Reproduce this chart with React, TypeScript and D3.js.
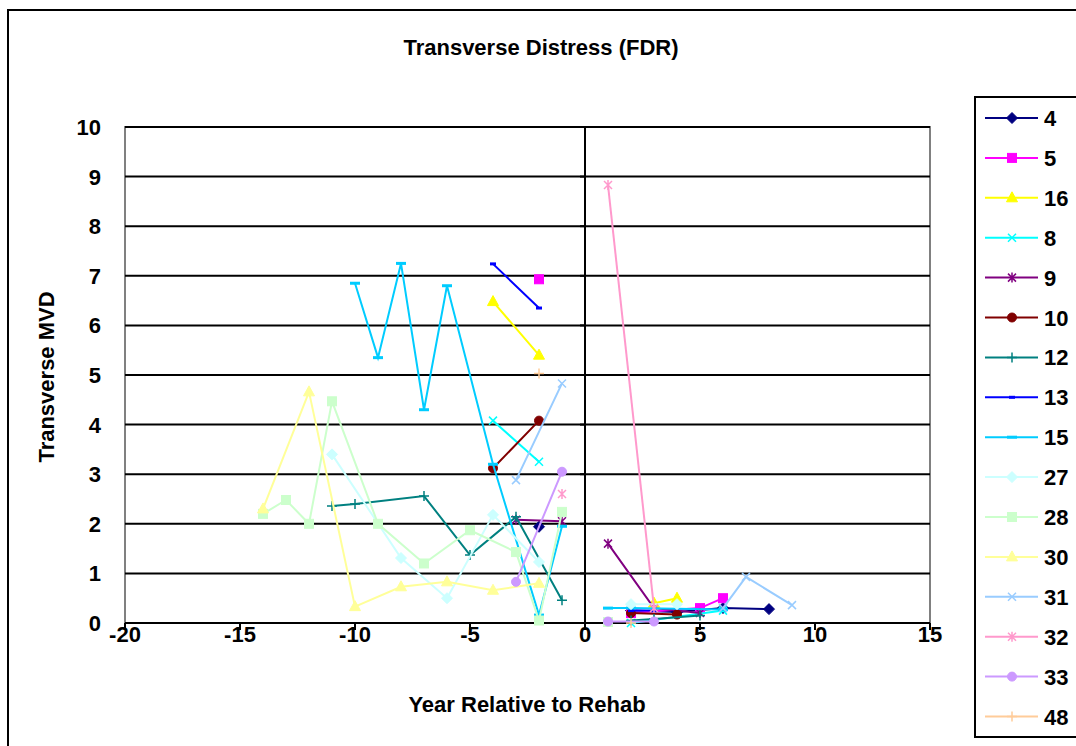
import React from "react";
import * as d3 from "d3";

type Pt = [number, number] | null;

const title = "Transverse Distress (FDR)";
const xTitle = "Year Relative to Rehab";
const yTitle = "Transverse MVD";
const xTicks = [-20, -15, -10, -5, 0, 5, 10, 15];
const yTicks = [0, 1, 2, 3, 4, 5, 6, 7, 8, 9, 10];

const seriesNames = ["4", "5", "16", "8", "9", "10", "12", "13", "15", "27", "28", "30", "31", "32", "33", "48"];
const seriesColors = ["#000080", "#FF00FF", "#FFFF00", "#00FFFF", "#800080", "#800000", "#008080", "#0000FF", "#00CCFF", "#CCFFFF", "#CCFFCC", "#FFFF99", "#99CCFF", "#FF99CC", "#CC99FF", "#FFCC99"];
const seriesMarkers = ["diamond", "square", "triangle", "x", "star", "circle", "plus", "dash", "longdash", "diamond", "square", "triangle", "x", "star", "circle", "plus"];

const s4: Pt[] = [[-2, 1.94], null, [2, 0.25], [4, 0.22], [6, 0.3], [8, 0.28]];
const s5: Pt[] = [[-2, 6.93], null, [2, 0.2], [5, 0.3], [6, 0.5]];
const s16: Pt[] = [[-4, 6.48], [-2, 5.4], null, [3, 0.4], [4, 0.5]];
const s8: Pt[] = [[-4, 4.08], [-2, 3.25], null, [2, 0.0], [6, 0.25]];
const s9: Pt[] = [[-3, 2.08], [-1, 2.05], null, [1, 1.6], [3, 0.3], [5, 0.2]];
const s10: Pt[] = [[-4, 3.12], [-2, 4.08], null, [2, 0.2], [4, 0.17]];
const s12: Pt[] = [[-11, 2.36], [-10, 2.4], [-7, 2.56], [-5, 1.37], [-3, 2.14], [-1, 0.46], null, [2, 0.05], [3, 0.08], [5, 0.15]];
const s13: Pt[] = [[-4, 7.24], [-2, 6.35], null, [2, 0.25], [3, 0.25]];
const s15: Pt[] = [[-10, 6.85], [-9, 5.35], [-8, 7.25], [-7, 4.3], [-6, 6.8], [-4, 3.2], [-2, 0.16], [-1, 1.95], null, [1, 0.3], [2, 0.3], [6, 0.27]];
const s27: Pt[] = [[-11, 3.4], [-8, 1.31], [-6, 0.5], [-4, 2.18], [-2, 1.23], null, [2, 0.38], [4, 0.38]];
const s28: Pt[] = [[-14, 2.2], [-13, 2.48], [-12, 2.0], [-11, 4.47], [-9, 2.0], [-7, 1.2], [-5, 1.87], [-3, 1.43], [-2, 0.05], [-1, 2.24], null, [1, 0.02]];
const s30: Pt[] = [[-14, 2.3], [-12, 4.66], [-10, 0.33], [-8, 0.73], [-6, 0.83], [-4, 0.66], [-2, 0.8]];
const s31: Pt[] = [[-3, 2.88], [-1, 4.83], null, [6, 0.3], [7, 0.93], [9, 0.36]];
const s32: Pt[] = [[-1, 2.6], null, [1, 8.83], [3, 0.3]];
const s33: Pt[] = [[-3, 0.83], [-1, 3.05], null, [1, 0.03], [3, 0.03]];
const s48: Pt[] = [[-2, 5.03], null, [2, 0.0]];

const seriesData = [s4, s5, s16, s8, s9, s10, s12, s13, s15, s27, s28, s30, s31, s32, s33, s48];

const W = 1076;
const H = 746;
const plot = { left: 125, right: 930, top: 127, bottom: 623 };
const FONT = "'Liberation Sans', Arial, sans-serif";
const FS = 22;

function Marker({ kind, x, y, color }: { kind: string; x: number; y: number; color: string }) {
  switch (kind) {
    case "diamond":
      return <path d={`M${x},${y - 5.5}L${x + 5.5},${y}L${x},${y + 5.5}L${x - 5.5},${y}Z`} fill={color} stroke={color} strokeWidth={1} />;
    case "square":
      return <rect x={x - 4.5} y={y - 4.5} width={9} height={9} fill={color} stroke={color} strokeWidth={1} />;
    case "triangle":
      return <path d={`M${x},${y - 6}L${x + 5.5},${y + 4}L${x - 5.5},${y + 4}Z`} fill={color} stroke={color} strokeWidth={1} />;
    case "circle":
      return <circle cx={x} cy={y} r={4.5} fill={color} stroke={color} strokeWidth={1} />;
    case "x":
      return <path d={`M${x - 4},${y - 4}L${x + 4},${y + 4}M${x - 4},${y + 4}L${x + 4},${y - 4}`} stroke={color} strokeWidth={1.5} fill="none" />;
    case "star":
      return <path d={`M${x - 4},${y - 4}L${x + 4},${y + 4}M${x - 4},${y + 4}L${x + 4},${y - 4}M${x},${y - 5}L${x},${y + 5}`} stroke={color} strokeWidth={1.5} fill="none" />;
    case "plus":
      return <path d={`M${x - 5},${y}L${x + 5},${y}M${x},${y - 5}L${x},${y + 5}`} stroke={color} strokeWidth={1.5} fill="none" />;
    case "dash":
      return <rect x={x - 3} y={y - 1.5} width={6} height={3} fill={color} />;
    case "longdash":
      return <rect x={x - 5} y={y - 1.5} width={10} height={3} fill={color} />;
    default:
      return null;
  }
}

export default function App() {
  const x = d3.scaleLinear().domain([-20, 15]).range([plot.left, plot.right]);
  const y = d3.scaleLinear().domain([0, 10]).range([plot.bottom, plot.top]);
  const line = d3
    .line<Pt>()
    .defined((d) => d !== null)
    .x((d) => x((d as [number, number])[0]))
    .y((d) => y((d as [number, number])[1]));

  const legendX = 975;
  const legendTop = 97;
  const legendStep = 39.9;

  return (
    <svg width={W} height={H} style={{ position: "absolute", left: 0, top: 0, background: "#fff" }} fontFamily={FONT}>
      <rect x={0} y={0} width={W} height={H} fill="#fff" />
      <rect x={8} y={10} width={W + 20} height={H + 20} fill="none" stroke="#000" strokeWidth={2} />
      <text x={541} y={55} textAnchor="middle" fontSize={FS} fontWeight="bold">{title}</text>

      {/* plot area border */}
      <rect x={plot.left} y={plot.top} width={plot.right - plot.left} height={plot.bottom - plot.top} fill="#fff" stroke="#808080" strokeWidth={2} />
      {yTicks.filter((t) => t > 0).map((t) => (
        <line key={"g" + t} x1={plot.left} x2={plot.right} y1={y(t)} y2={y(t)} stroke="#000" strokeWidth={2} />
      ))}
      {/* x axis */}
      <line x1={plot.left} x2={plot.right} y1={y(0)} y2={y(0)} stroke="#000" strokeWidth={2} />
      {xTicks.map((t) => (
        <line key={"xt" + t} x1={x(t)} x2={x(t)} y1={y(0)} y2={y(0) + 7} stroke="#000" strokeWidth={2} />
      ))}
      {/* y axis at x = 0 */}
      <line x1={x(0)} x2={x(0)} y1={plot.top} y2={plot.bottom} stroke="#000" strokeWidth={2} />
      {yTicks.map((t) => (
        <line key={"yt" + t} x1={x(0) - 5} x2={x(0)} y1={y(t)} y2={y(t)} stroke="#000" strokeWidth={2} />
      ))}

      {yTicks.map((t) => (
        <text key={"yl" + t} x={101} y={y(t) + 8} textAnchor="end" fontSize={FS} fontWeight="bold">{t}</text>
      ))}
      {xTicks.map((t) => (
        <text key={"xl" + t} x={x(t)} y={642} textAnchor="middle" fontSize={FS} fontWeight="bold">{t}</text>
      ))}
      <text x={527} y={712} textAnchor="middle" fontSize={FS} fontWeight="bold">{xTitle}</text>
      <text transform={`translate(54,377) rotate(-90)`} textAnchor="middle" fontSize={FS} fontWeight="bold">{yTitle}</text>

      {seriesData.map((data, i) => (
        <g key={"s" + i}>
          <path d={line(data) as string} fill="none" stroke={seriesColors[i]} strokeWidth={2} />
          {data.filter((d) => d !== null).map((d, j) => (
            <Marker key={j} kind={seriesMarkers[i]} x={x((d as [number, number])[0])} y={y((d as [number, number])[1])} color={seriesColors[i]} />
          ))}
        </g>
      ))}

      {/* legend */}
      <rect x={legendX} y={legendTop} width={140} height={640} fill="#fff" stroke="#000" strokeWidth={2} />
      {seriesNames.map((name, i) => {
        const ly = 118 + i * legendStep;
        return (
          <g key={"l" + i}>
            <line x1={985} x2={1038} y1={ly} y2={ly} stroke={seriesColors[i]} strokeWidth={2} />
            <Marker kind={seriesMarkers[i]} x={1012} y={ly} color={seriesColors[i]} />
            <text x={1044} y={ly + 8} fontSize={FS} fontWeight="bold">{name}</text>
          </g>
        );
      })}
    </svg>
  );
}
